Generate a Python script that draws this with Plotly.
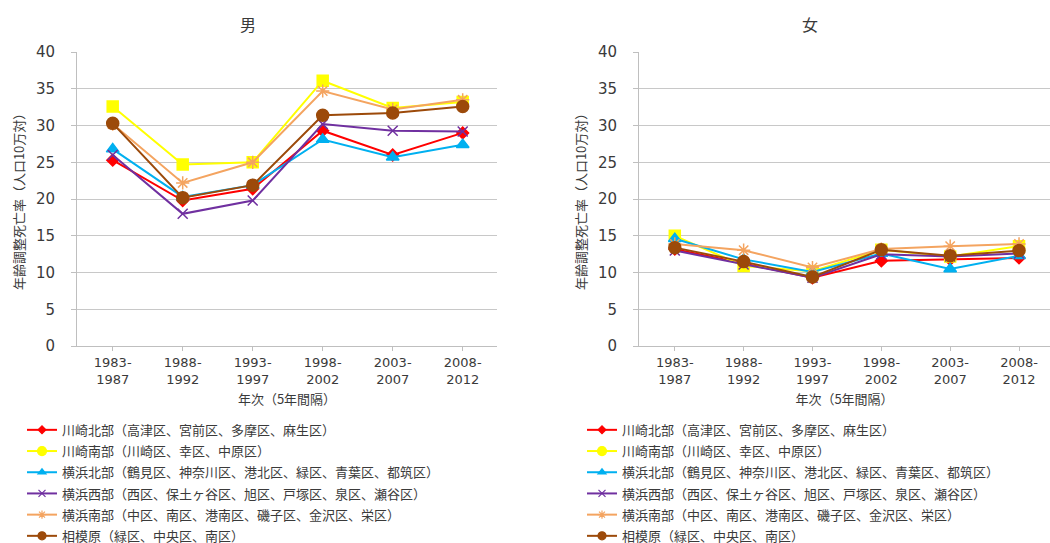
import plotly.graph_objects as go

categories = ["1983-<br>1987", "1988-<br>1992", "1993-<br>1997", "1998-<br>2002", "2003-<br>2007", "2008-<br>2012"]
series_names = [
    "川崎北部（高津区、宮前区、多摩区、麻生区）",
    "川崎南部（川崎区、幸区、中原区）",
    "横浜北部（鶴見区、神奈川区、港北区、緑区、青葉区、都筑区）",
    "横浜西部（西区、保土ヶ谷区、旭区、戸塚区、泉区、瀬谷区）",
    "横浜南部（中区、南区、港南区、磯子区、金沢区、栄区）",
    "相模原（緑区、中央区、南区）",
]
male_kawasaki_n = [25.3, 19.8, 21.4, 29.3, 26.0, 29.0]
male_kawasaki_s = [32.6, 24.7, 25.0, 36.1, 32.4, 33.2]
male_yokohama_n = [26.8, 20.3, 21.9, 28.1, 25.7, 27.4]
male_yokohama_w = [26.0, 18.0, 19.8, 30.2, 29.3, 29.2]
male_yokohama_s = [30.2, 22.2, 25.0, 34.7, 32.2, 33.5]
male_sagamihara = [30.3, 20.2, 21.9, 31.4, 31.7, 32.6]

female_kawasaki_n = [13.2, 11.2, 9.3, 11.6, 11.8, 12.0]
female_kawasaki_s = [15.0, 10.9, 10.2, 13.1, 12.2, 13.6]
female_yokohama_n = [14.6, 11.8, 10.1, 12.6, 10.5, 12.3]
female_yokohama_w = [13.0, 11.1, 9.3, 12.5, 12.2, 12.6]
female_yokohama_s = [13.9, 13.05, 10.7, 13.2, 13.6, 13.9]
female_sagamihara = [13.4, 11.5, 9.4, 13.1, 12.3, 13.0]

male = [male_kawasaki_n, male_kawasaki_s, male_yokohama_n, male_yokohama_w, male_yokohama_s, male_sagamihara]
female = [female_kawasaki_n, female_kawasaki_s, female_yokohama_n, female_yokohama_w, female_yokohama_s, female_sagamihara]

x_title = "年次（5年間隔）"
y_title = "年齢調整死亡率（人口10万対）"
panel_titles = ["男", "女"]

colors = ["#FF0000", "#FFFF00", "#00B0F0", "#7030A0", "#F4A460", "#9C4A0A"]
symbols = ["diamond", "square", "triangle-up", "x-thin-open", "asterisk-open", "circle"]
sizes = [9, 11, 11, 10, 11, 12]
legend_symbols = ["diamond", "circle", "triangle-up", "x-thin-open", "asterisk-open", "circle"]
legend_sizes = [6, 9, 7, 7, 7, 8]

FONT = "DejaVu Sans"
JP = "Noto Sans CJK JP"
TXT = "#3A3A3A"

W, H = 1050, 551
S = 0.985  # vertical factor between page pixels and the photographed picture

def py(v):
    return 1 - (v / S) / H

fig = go.Figure()
x = list(range(6))
for panel, data, xa, ya, leg in [("m", male, "x", "y", "legend"), ("f", female, "x2", "y2", "legend2")]:
    for i in range(6):
        fig.add_trace(go.Scatter(
            x=x, y=data[i], mode="lines+markers", name=series_names[i],
            line=dict(color=colors[i], width=2),
            marker=dict(symbol=symbols[i], size=sizes[i], color=colors[i], line=dict(color=colors[i], width=1.5)),
            xaxis=xa, yaxis=ya, showlegend=False, legendgroup=panel + str(i)))
    for i in range(6):
        # legend entry (smaller marker, like the original legend)
        fig.add_trace(go.Scatter(
            x=[None], y=[None], mode="lines+markers", name=series_names[i],
            line=dict(color=colors[i], width=2),
            marker=dict(symbol=legend_symbols[i], size=legend_sizes[i], color=colors[i],
                        line=dict(color=colors[i], width=1.2)),
            xaxis=xa, yaxis=ya, legend=leg, legendgroup=panel + str(i)))

xcommon = dict(tickmode="array", tickvals=x, ticktext=categories,
               showline=True, linecolor="#BFBFBF", linewidth=1, ticks="outside", tickcolor="#BFBFBF",
               ticklen=4, showgrid=False, zeroline=False, automargin=False,
               tickfont=dict(family=FONT, size=13, color=TXT),
               title=dict(text=x_title, font=dict(family=JP, size=13, color=TXT), standoff=9))
ycommon = dict(range=[0, 40], dtick=5, showline=True, linecolor="#BFBFBF", linewidth=1,
               showgrid=True, gridcolor="#C8C8C8", gridwidth=1, zeroline=False, automargin=False,
               ticks="outside", tickcolor="#BFBFBF", ticklen=5, ticklabelstandoff=13,
               tickfont=dict(family=FONT, size=15, color=TXT))

legcommon = dict(font=dict(family=JP, size=13, color=TXT), bgcolor="rgba(0,0,0,0)",
                 yanchor="top", xanchor="left", orientation="v", itemwidth=30, tracegroupgap=1.3)

y_dom = [py(346), py(52)]
fig.update_layout(
    width=W, height=H,
    margin=dict(l=0, r=0, t=0, b=0),
    paper_bgcolor="white", plot_bgcolor="white",
    xaxis=dict(domain=[77 / W, 497 / W], anchor="y", range=[-0.51, 5.49], **xcommon),
    yaxis=dict(domain=y_dom, anchor="x", **ycommon),
    xaxis2=dict(domain=[639 / W, 1.0], anchor="y2", range=[-0.52, 5.45], **xcommon),
    yaxis2=dict(domain=y_dom, anchor="x2", **ycommon),
    legend=dict(x=22 / W, y=1 - 421 / H, **legcommon),
    legend2=dict(x=582 / W, y=1 - 421 / H, **legcommon),
    annotations=[
        dict(text=panel_titles[0], x=248 / W, y=py(24), xref="paper", yref="paper", showarrow=False,
             xanchor="center", yanchor="middle", font=dict(family=JP, size=16, color=TXT)),
        dict(text=panel_titles[1], x=810 / W, y=py(24), xref="paper", yref="paper", showarrow=False,
             xanchor="center", yanchor="middle", font=dict(family=JP, size=16, color=TXT)),
        dict(text=y_title, x=18 / W, y=py(199), xref="paper", yref="paper", showarrow=False,
             textangle=-90, xanchor="center", yanchor="middle", font=dict(family=JP, size=13, color=TXT)),
        dict(text=y_title, x=580 / W, y=py(199), xref="paper", yref="paper", showarrow=False,
             textangle=-90, xanchor="center", yanchor="middle", font=dict(family=JP, size=13, color=TXT)),
    ],
)

# remove the page's default body margin so the figure fills the window exactly
fig.write_html("out.html", config={"displayModeBar": False},
               post_script="document.body.style.margin='0';")
